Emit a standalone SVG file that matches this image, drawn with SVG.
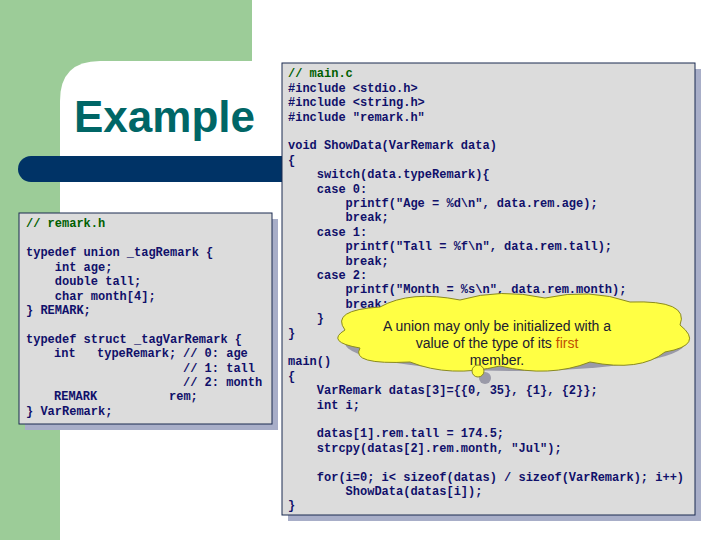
<svg xmlns="http://www.w3.org/2000/svg" width="720" height="540" viewBox="0 0 720 540">
<style>
.c{font-family:"Liberation Mono",monospace;font-size:12px;font-weight:bold;fill:#10106a;white-space:pre}
.g{fill:#006000}
.panel{fill:#dcdcdc;stroke:#1a2a50;stroke-width:1}
.sh{fill:#a8aec8}
</style>
<rect x="0" y="0" width="252" height="540" fill="#9ccc98"/>
<path d="M60 540 V101 Q60 61 100 61 H252 V540 Z" fill="#fff"/>
<rect x="252" y="0" width="468" height="540" fill="#fff"/>
<rect x="18" y="156" width="290" height="26" rx="13" fill="#003366"/>
<text x="74" y="132" font-family="Liberation Sans,Arial,sans-serif" font-size="44" font-weight="bold" fill="#006666">Example</text>
<g id="left">
<rect class="sh" x="25" y="219" width="253" height="211"/>
<rect class="panel" x="19" y="213" width="253" height="211"/>
<text class="c"><tspan class="g" x="26" y="227">// remark.h</tspan><tspan x="26" y="256">typedef union _tagRemark {</tspan><tspan x="26" y="271">    int age;</tspan><tspan x="26" y="285">    double tall;</tspan><tspan x="26" y="300">    char month[4];</tspan><tspan x="26" y="314">} REMARK;</tspan><tspan x="26" y="343">typedef struct _tagVarRemark {</tspan><tspan x="54" y="357">int</tspan><tspan x="97" y="357">typeRemark;</tspan><tspan x="183" y="357">// 0: age</tspan><tspan x="183" y="372">// 1: tall</tspan><tspan x="183" y="386">// 2: month</tspan><tspan x="54" y="400">REMARK</tspan><tspan x="169" y="400">rem;</tspan><tspan x="26" y="415">} VarRemark;</tspan></text>
</g>
<g id="right">
<rect class="sh" x="288" y="69" width="413" height="452"/>
<rect class="panel" x="282" y="63" width="413" height="452"/>
<text class="c"><tspan class="g" x="288" y="77">// main.c</tspan><tspan x="288" y="92">#include &lt;stdio.h&gt;</tspan><tspan x="288" y="106">#include &lt;string.h&gt;</tspan><tspan x="288" y="121">#include "remark.h"</tspan><tspan x="288" y="149">void ShowData(VarRemark data)</tspan><tspan x="288" y="164">{</tspan><tspan x="288" y="178">    switch(data.typeRemark){</tspan><tspan x="288" y="193">    case 0:</tspan><tspan x="288" y="207">        printf("Age = %d\n", data.rem.age);</tspan><tspan x="288" y="221">        break;</tspan><tspan x="288" y="236">    case 1:</tspan><tspan x="288" y="250">        printf("Tall = %f\n", data.rem.tall);</tspan><tspan x="288" y="265">        break;</tspan><tspan x="288" y="279">    case 2:</tspan><tspan x="288" y="293">        printf("Month = %s\n", data.rem.month);</tspan><tspan x="288" y="308">        break;</tspan><tspan x="288" y="322">    }</tspan><tspan x="288" y="337">}</tspan><tspan x="288" y="365">main()</tspan><tspan x="288" y="380">{</tspan><tspan x="288" y="394">    VarRemark datas[3]={{0, 35}, {1}, {2}};</tspan><tspan x="288" y="409">    int i;</tspan><tspan x="288" y="437">    datas[1].rem.tall = 174.5;</tspan><tspan x="288" y="452">    strcpy(datas[2].rem.month, "Jul");</tspan><tspan x="288" y="481">    for(i=0; i&lt; sizeof(datas) / sizeof(VarRemark); i++)</tspan><tspan x="288" y="495">        ShowData(datas[i]);</tspan><tspan x="288" y="509">}</tspan></text>
</g>
<g id="callout">
<g fill="#9a9aa8" transform="translate(5,5)">
<ellipse cx="510" cy="338" rx="170" ry="28"/>
<circle cx="480" cy="373" r="6"/>
</g>
<g fill="#ffff44" stroke="#8a8a20" stroke-width="1">
<path d="M345 330 Q330 310 380 307 Q410 290 460 300 Q500 288 545 298 Q590 288 630 302 Q690 300 680 325 Q705 345 665 352 Q640 372 590 362 Q550 378 500 366 Q450 378 410 362 Q350 365 360 348 Q325 342 345 330 Z"/>
<circle cx="478" cy="371" r="6"/>
</g>
<text font-family="Liberation Sans,Arial,sans-serif" font-size="14" fill="#202030" text-anchor="middle"><tspan x="497" y="331">A union may only be initialized with a</tspan><tspan x="497" y="348">value of the type of its <tspan fill="#c05000">first</tspan></tspan><tspan x="497" y="365">member.</tspan></text>
</g>
</svg>
